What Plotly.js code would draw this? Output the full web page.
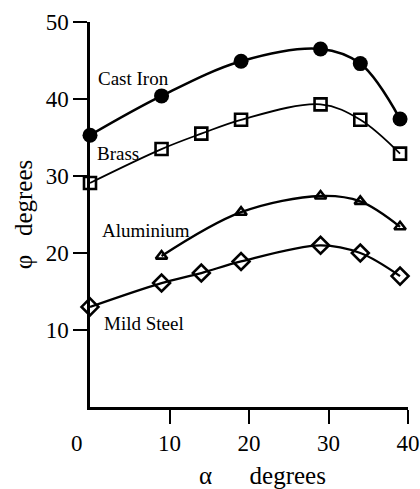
<!DOCTYPE html>
<html>
<head>
<meta charset="utf-8">
<script src="https://cdn.plot.ly/plotly-3.0.1.min.js"></script>
<style>
  html, body { margin: 0; padding: 0; background: #fff; }
  #chart { width: 420px; height: 489px; }
</style>
</head>
<body>
<div id="chart"></div>
<script>
// Rake angle alpha (degrees) at which each material was tested
const alphaCastIron = [0, 9, 19, 29, 34, 39];
const alphaBrass = [0, 9, 14, 19, 29, 34, 39];
const alphaAluminium = [9, 19, 29, 34, 39];
const alphaMildSteel = [0, 9, 14, 19, 29, 34, 39];

// Shear angle phi (degrees) measured for each material
const phiCastIron = [35.3, 40.4, 44.9, 46.5, 44.6, 37.4];
const phiBrass = [29.1, 33.5, 35.5, 37.3, 39.3, 37.3, 32.9];
const phiAluminium = [19.6, 25.3, 27.4, 26.7, 23.4];
const phiMildSteel = [13.0, 16.1, 17.4, 18.9, 21.0, 20.0, 17.0];

const xTicks = [10, 20, 30, 40];
const yTicks = [10, 20, 30, 40, 50];

const serif = 'Liberation Serif';
const ink = 'black';

function series(name, x, y, symbol, size, lineWidth, markerLine) {
  return {
    type: 'scatter', mode: 'lines+markers', name: name,
    x: x, y: y, cliponaxis: false,
    line: { color: ink, width: lineWidth, shape: 'spline', smoothing: 1 },
    marker: { symbol: symbol, size: size, color: ink, line: { color: ink, width: markerLine } }
  };
}

const traces = [
  series('Cast Iron', alphaCastIron, phiCastIron, 'circle', 15, 2.6, 0),
  series('Brass', alphaBrass, phiBrass, 'square-open', 12, 1.8, 2.6),
  series('Aluminium', alphaAluminium, phiAluminium, 'triangle-up-open', 10, 2.3, 2.6),
  series('Mild Steel', alphaMildSteel, phiMildSteel, 'diamond-open', 13, 2.3, 2.6)
];

// Material names written beside their curves
function label(text, x, y) {
  return { text: text, x: x, y: y, xref: 'x', yref: 'y', xanchor: 'left', yanchor: 'middle',
           showarrow: false, font: { family: serif, size: 19, color: ink } };
}

const nb = '\u00a0';
const layout = {
  width: 420, height: 489,
  margin: { l: 90, r: 12, t: 22, b: 82 },
  paper_bgcolor: 'white', plot_bgcolor: 'white',
  showlegend: false,
  xaxis: {
    range: [0, 40], tickvals: xTicks, ticks: 'outside', ticklen: 14, tickwidth: 2, tickcolor: ink,
    showgrid: false, zeroline: false, showline: true, linewidth: 2.6, linecolor: ink,
    tickfont: { family: serif, size: 23, color: ink }
  },
  yaxis: {
    range: [0, 50], tickvals: yTicks, ticks: 'outside', ticklen: 14, tickwidth: 2, tickcolor: ink,
    showgrid: false, zeroline: false, showline: true, linewidth: 2.6, linecolor: ink,
    tickfont: { family: serif, size: 23, color: ink },
    title: { text: 'φ' + nb.repeat(3) + 'degrees', font: { family: serif, size: 25, color: ink }, standoff: 6 }
  },
  annotations: [
    label('Cast Iron', 0.8, 42.7),
    label('Brass', 0.6, 32.9),
    label('Aluminium', 1.3, 22.9),
    label('Mild Steel', 1.5, 10.8),
    // x-axis title, set slightly right of centre under the axis
    { text: 'α' + nb.repeat(6) + 'degrees', x: 0.544, y: -0.177, xref: 'paper', yref: 'paper',
      xanchor: 'center', yanchor: 'middle', showarrow: false,
      font: { family: serif, size: 25, color: ink } },
    // origin value shared by both axes
    { text: '0', x: -0.041, y: -0.095, xref: 'paper', yref: 'paper', xanchor: 'center', yanchor: 'middle',
      showarrow: false, font: { family: serif, size: 23, color: ink } }
  ]
};

Plotly.newPlot('chart', traces, layout, { staticPlot: true });
</script>
</body>
</html>
